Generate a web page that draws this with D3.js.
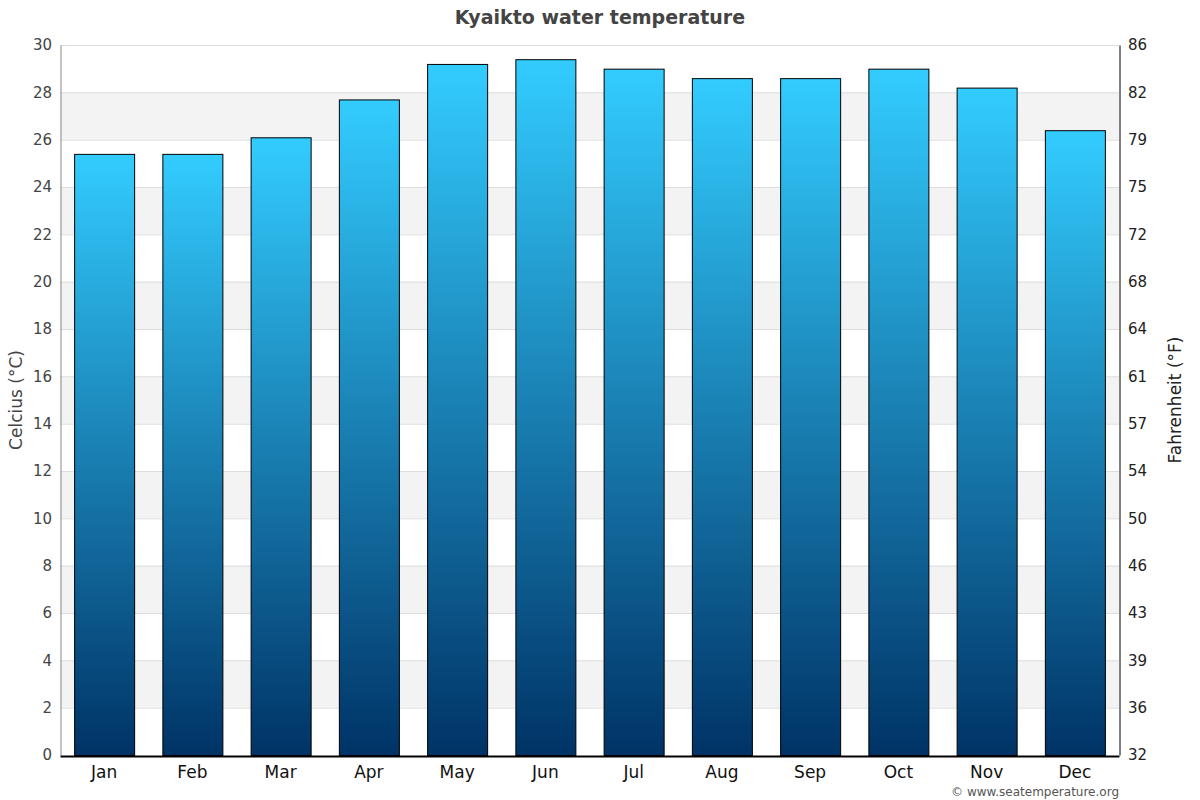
<!DOCTYPE html>
<html>
<head>
<meta charset="utf-8">
<script src="https://cdn.jsdelivr.net/npm/d3@7"></script>
<style>
  body { margin: 0; background: #fff; }
  svg, svg text { font-family: "DejaVu Sans", sans-serif; }
</style>
</head>
<body>
<svg id="chart" width="1200" height="800"></svg>
<script>
const months = ["Jan", "Feb", "Mar", "Apr", "May", "Jun", "Jul", "Aug", "Sep", "Oct", "Nov", "Dec"];
const waterTemp = [25.4, 25.4, 26.1, 27.7, 29.2, 29.4, 29.0, 28.6, 28.6, 29.0, 28.2, 26.4];
const celsiusTicks = [0, 2, 4, 6, 8, 10, 12, 14, 16, 18, 20, 22, 24, 26, 28, 30];
const fahrenheitLabels = [32, 36, 39, 43, 46, 50, 54, 57, 61, 64, 68, 72, 75, 79, 82, 86];

const margin = { top: 45, right: 81, bottom: 45, left: 60 };
const width = 1200 - margin.left - margin.right;
const height = 800 - margin.top - margin.bottom;

let svg = d3.select("#chart");

let x = d3.scaleBand().domain(months).range([0, width]).paddingInner(0.32).paddingOuter(0.16);
let y = d3.scaleLinear().domain([0, 30]).range([height, 0]);

// gradient shared by every bar, stretched over each bar's own box
let gradient = svg.append("defs")
                  .append("linearGradient")
                  .attr("id", "barGradient")
                  .attr("x1", "0%").attr("y1", "0%")
                  .attr("x2", "0%").attr("y2", "100%");
gradient.append("stop").attr("offset", "0%").attr("stop-color", "#33ccff");
gradient.append("stop").attr("offset", "100%").attr("stop-color", "#003366");

svg.append("text")
   .attr("x", 600)
   .attr("y", 24)
   .attr("text-anchor", "middle")
   .style("font-size", "19px")
   .style("font-weight", "bold")
   .style("fill", "#444")
   .text("Kyaikto water temperature");

let plot = svg.append("g").attr("transform", `translate(${margin.left},${margin.top})`);

// alternating bands
let bandStarts = celsiusTicks.filter((t) => t % 4 === 2 && t < 30);
plot.selectAll(".band")
    .data(bandStarts)
    .enter()
    .append("rect")
    .attr("class", "band")
    .attr("x", 0)
    .attr("width", width)
    .attr("y", (d) => y(d + 2))
    .attr("height", (d) => y(d) - y(d + 2))
    .style("fill", "#f3f3f3");

plot.selectAll(".grid")
    .data(celsiusTicks.slice(1))
    .enter()
    .append("line")
    .attr("class", "grid")
    .attr("x1", 0)
    .attr("x2", width)
    .attr("y1", (d) => y(d) + 0.5)
    .attr("y2", (d) => y(d) + 0.5)
    .style("stroke", "#dddddd");

plot.selectAll(".bar")
    .data(waterTemp)
    .enter()
    .append("rect")
    .attr("class", "bar")
    .attr("x", (d, i) => x(months[i]) + 0.5)
    .attr("width", x.bandwidth())
    .attr("y", (d) => y(d) + 0.5)
    .attr("height", (d) => y(0) - y(d))
    .style("fill", "url(#barGradient)")
    .style("stroke", "#000")
    .style("stroke-width", 1);

// left axis
let leftAxis = d3.axisLeft(y).tickValues(celsiusTicks).tickSize(0).tickPadding(8);
let leftG = plot.append("g").call(leftAxis).attr("font-family", null);
leftG.select(".domain").style("stroke", "#888").attr("transform", "translate(0.5,0)");
leftG.selectAll("text").style("font-size", "15px").style("fill", "#444");

// right axis, same positions labelled in Fahrenheit
let rightAxis = d3.axisRight(y)
                  .tickValues(celsiusTicks)
                  .tickFormat((d, i) => fahrenheitLabels[i])
                  .tickSize(0)
                  .tickPadding(9);
let rightG = plot.append("g").attr("transform", `translate(${width},0)`).call(rightAxis).attr("font-family", null);
rightG.select(".domain").style("stroke", "#000").attr("transform", "translate(0.5,0)");
rightG.selectAll("text").style("font-size", "15px").style("fill", "#222");

// bottom axis
let bottomAxis = d3.axisBottom(x).tickSize(0).tickPadding(11);
let bottomG = plot.append("g").attr("transform", `translate(0,${height})`).call(bottomAxis).attr("font-family", null);
bottomG.select(".domain").style("stroke", "#000").style("stroke-width", 2).attr("transform", "translate(0,1)");
bottomG.selectAll("text").style("font-size", "17px").style("fill", "#111");

svg.append("text")
   .attr("transform", `translate(22,${margin.top + height / 2}) rotate(-90)`)
   .attr("text-anchor", "middle")
   .style("font-size", "17px")
   .style("fill", "#444")
   .text("Celcius (°C)");

svg.append("text")
   .attr("transform", `translate(1181,${margin.top + height / 2}) rotate(-90)`)
   .attr("text-anchor", "middle")
   .style("font-size", "17px")
   .style("fill", "#222")
   .text("Fahrenheit (°F)");

svg.append("text")
   .attr("x", margin.left + width)
   .attr("y", 796)
   .attr("text-anchor", "end")
   .style("font-size", "12px")
   .style("fill", "#555")
   .text("© www.seatemperature.org");
</script>
</body>
</html>
